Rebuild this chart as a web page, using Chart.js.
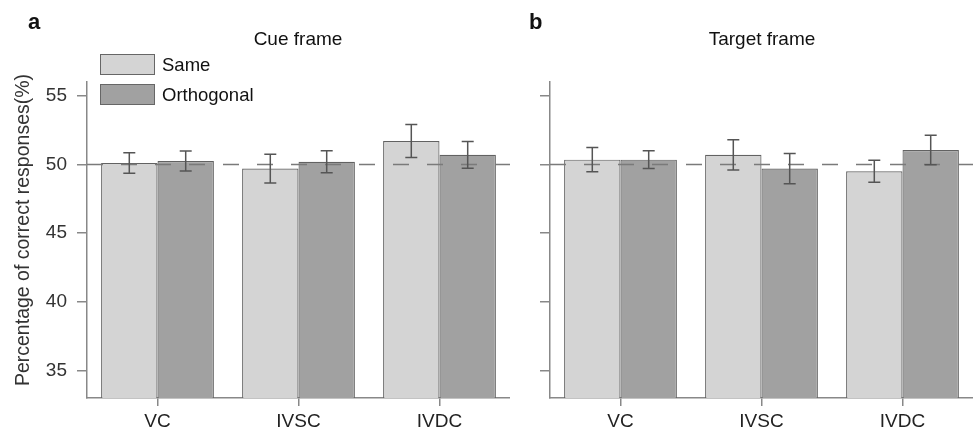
<!DOCTYPE html>
<html>
<head>
<meta charset="utf-8">
<script src="https://cdn.jsdelivr.net/npm/chart.js@4"></script>
<style>
  html, body { margin: 0; padding: 0; background: #fff; }
  #wrap { position: relative; width: 973px; height: 433px; }
  canvas { position: absolute; top: 0; }
</style>
</head>
<body>
<div id="wrap">
  <canvas id="cue" width="510" height="433" style="left:0"></canvas>
  <canvas id="target" width="463" height="433" style="left:510px"></canvas>
</div>
<script>
// data
const categories = ['VC', 'IVSC', 'IVDC'];
const seriesNames = ['Same', 'Orthogonal'];
const yTicks = [35, 40, 45, 50, 55];
const chanceLevel = 50;

const cueSame = [50.1, 49.7, 51.7];
const cueSameErr = [0.75, 1.05, 1.2];
const cueOrth = [50.25, 50.2, 50.7];
const cueOrthErr = [0.72, 0.8, 0.97];

const targetSame = [50.35, 50.7, 49.5];
const targetSameErr = [0.88, 1.1, 0.8];
const targetOrth = [50.35, 49.7, 51.05];
const targetOrthErr = [0.65, 1.1, 1.07];

const FONT = "'Liberation Sans', Arial, sans-serif";
Chart.defaults.font.family = FONT;
Chart.defaults.font.size = 19;
Chart.defaults.color = '#333';

const fills = ['#d4d4d4', '#a1a1a1'];

// dashed chance line, error bars, panel texts and legend
const panelDecor = {
  id: 'panelDecor',
  afterDatasetsDraw(chart, args, opts) {
    const { ctx, chartArea: a } = chart;
    const y = chart.scales.y;
    ctx.save();
    const yl = y.getPixelForValue(chanceLevel);
    ctx.strokeStyle = '#7a7a7a';
    ctx.lineWidth = 1.5;
    ctx.setLineDash([16, 18]);
    ctx.beginPath();
    ctx.moveTo(a.left, yl);
    ctx.lineTo(a.right, yl);
    ctx.stroke();
    ctx.setLineDash([]);

    ctx.strokeStyle = '#555';
    ctx.lineWidth = 1.5;
    chart.data.datasets.forEach((ds, i) => {
      chart.getDatasetMeta(i).data.forEach((bar, j) => {
        const hi = y.getPixelForValue(ds.data[j] + ds.errors[j]);
        const lo = y.getPixelForValue(ds.data[j] - ds.errors[j]);
        ctx.beginPath();
        ctx.moveTo(bar.x, hi); ctx.lineTo(bar.x, lo);
        ctx.moveTo(bar.x - 6, hi); ctx.lineTo(bar.x + 6, hi);
        ctx.moveTo(bar.x - 6, lo); ctx.lineTo(bar.x + 6, lo);
        ctx.stroke();
      });
    });
    ctx.restore();
  },
  afterDraw(chart, args, opts) {
    const ctx = chart.ctx;
    ctx.save();
    ctx.fillStyle = '#111';
    ctx.textBaseline = 'alphabetic';
    ctx.font = 'bold 22px ' + FONT;
    ctx.textAlign = 'left';
    ctx.fillText(opts.letter, opts.letterX, 29);
    ctx.font = '19px ' + FONT;
    ctx.textAlign = 'center';
    ctx.fillText(opts.title, opts.titleX, 45);

    if (opts.legend) {
      ctx.textAlign = 'left';
      ctx.font = '18.5px ' + FONT;
      chart.data.datasets.forEach((ds, i) => {
        const top = 54 + i * 30;
        ctx.fillStyle = ds.backgroundColor;
        ctx.fillRect(100, top, 54, 20);
        ctx.strokeStyle = '#666';
        ctx.lineWidth = 1;
        ctx.strokeRect(100.5, top + 0.5, 54, 20);
        ctx.fillStyle = '#111';
        ctx.fillText(ds.label, 162, top + 17);
      });
    }
    if (opts.yTitle) {
      ctx.translate(24, 230);
      ctx.rotate(-Math.PI / 2);
      ctx.textAlign = 'center';
      ctx.textBaseline = 'middle';
      ctx.font = '19.5px ' + FONT;
      ctx.fillStyle = '#333';
      ctx.fillText(opts.yTitle, 0, 0);
    }
    ctx.restore();
  }
};

function makePanel(id, same, sameErr, orth, orthErr, deco, axisWidth, showLabels) {
  return new Chart(document.getElementById(id), {
    type: 'bar',
    data: {
      labels: categories,
      datasets: [
        { label: seriesNames[0], data: same, errors: sameErr, backgroundColor: fills[0] },
        { label: seriesNames[1], data: orth, errors: orthErr, backgroundColor: fills[1] },
      ],
    },
    options: {
      responsive: false,
      animation: false,
      layout: { padding: { top: 82, right: 0, left: 0, bottom: 0 } },
      datasets: {
        bar: {
          categoryPercentage: 0.8,
          barPercentage: 1.0,
          borderColor: '#626262',
          borderWidth: 1.2,
          borderSkipped: false,
        },
      },
      scales: {
        x: {
          border: { color: '#888', width: 1.5 },
          grid: { drawOnChartArea: false, offset: false, tickLength: 8, color: '#888', lineWidth: 1.5 },
          ticks: { padding: 4, color: '#222', font: { size: 19 } },
          afterFit(s) { s.height = 35; },
        },
        y: {
          min: 33,
          max: 56,
          afterBuildTicks(s) { s.ticks = yTicks.map(v => ({ value: v })); },
          border: { color: '#888', width: 1.5 },
          grid: { drawOnChartArea: false, tickLength: 10, color: '#888', lineWidth: 1.5 },
          ticks: { display: showLabels, padding: 10, color: '#333', font: { size: 19 } },
          afterFit(s) { s.width = axisWidth; },
        },
      },
      plugins: {
        legend: { display: false },
        tooltip: { enabled: false },
        panelDecor: deco,
      },
    },
    plugins: [panelDecor],
  });
}

makePanel('cue', cueSame, cueSameErr, cueOrth, cueOrthErr,
  { letter: 'a', letterX: 28, title: 'Cue frame', titleX: 298, legend: true,
    yTitle: 'Percentage of correct responses(%)' }, 87, true);

makePanel('target', targetSame, targetSameErr, targetOrth, targetOrthErr,
  { letter: 'b', letterX: 19, title: 'Target frame', titleX: 252, legend: false }, 40, false);
</script>
</body>
</html>
